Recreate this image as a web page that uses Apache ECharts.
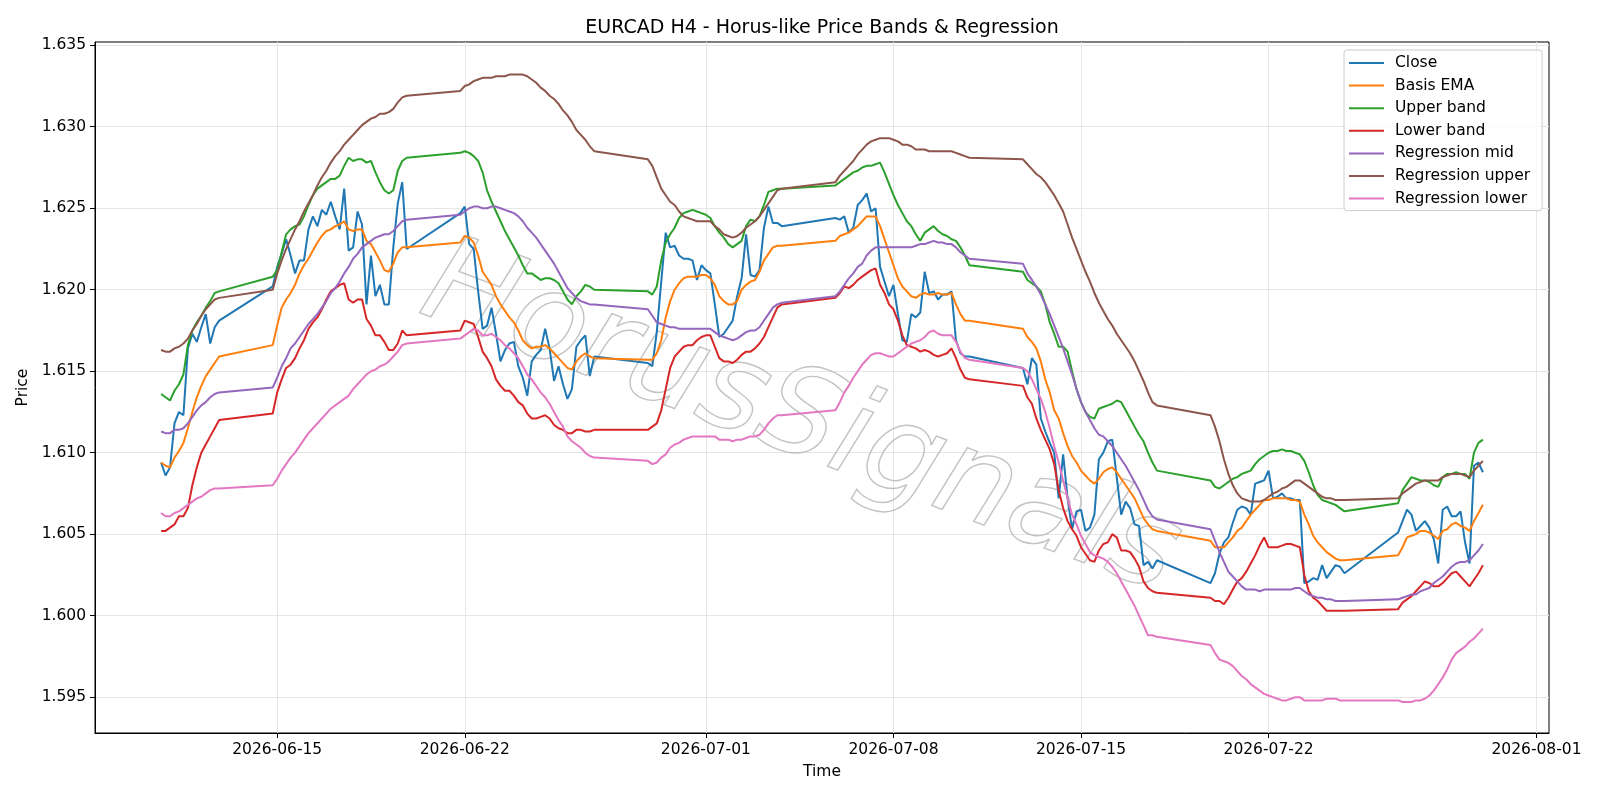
<!DOCTYPE html>
<html>
<head>
<meta charset="utf-8">
<title>EURCAD H4 - Horus-like Price Bands & Regression</title>
<script src="https://cdn.jsdelivr.net/npm/echarts@6/dist/echarts.min.js"></script>
<style>
html, body { margin: 0; padding: 0; background: #fff; }
#chart { width: 1600px; height: 800px; }
</style>
</head>
<body>
<div id="chart"></div>
<script>
// H4 bars: trading sessions (UTC), one bar every 4 hours inside each
var sessions = [
    ['2026-06-10T16:00:00Z', '2026-06-12T20:00:00Z'],
    ['2026-06-14T20:00:00Z', '2026-06-19T20:00:00Z'],
    ['2026-06-21T20:00:00Z', '2026-06-26T20:00:00Z'],
    ['2026-06-28T20:00:00Z', '2026-07-03T20:00:00Z'],
    ['2026-07-05T20:00:00Z', '2026-07-10T20:00:00Z'],
    ['2026-07-12T20:00:00Z', '2026-07-17T20:00:00Z'],
    ['2026-07-19T20:00:00Z', '2026-07-24T20:00:00Z'],
    ['2026-07-26T20:00:00Z', '2026-07-30T00:00:00Z']
];

var close = [
    1.6094,1.6086,1.6091,1.6118,1.6125,1.6123,1.6164,1.6173,1.6168,1.6177,1.6185,1.6167,1.6177,1.6181,
    1.6202,1.6214,1.6222,1.6231,1.6221,1.6210,1.6218,1.6218,1.6237,1.6245,1.6239,1.6249,1.6246,1.6254,1.6245,1.6237,1.6262,1.6224,1.6226,1.6248,1.6240,1.6191,1.6221,1.6196,1.6203,1.6191,1.6191,1.6226,1.6253,1.6266,1.6225,
    1.6247,1.6251,1.6228,1.6225,1.6199,1.6176,1.6178,1.6189,1.6173,1.6156,1.6163,1.6167,1.6168,1.6153,1.6146,1.6135,1.6156,1.6160,1.6163,1.6176,1.6164,1.6144,1.6153,1.6142,1.6133,1.6139,1.6165,1.6169,1.6172,1.6147,1.6159,
    1.6155,1.6153,1.6174,1.6205,1.6235,1.6226,1.6227,1.6221,1.6219,1.6219,1.6218,1.6206,1.6215,1.6212,1.6210,1.6191,1.6171,1.6173,1.6177,1.6181,1.6196,1.6207,1.6234,1.6209,1.6208,1.6212,1.6238,1.6251,1.6241,1.6241,1.6239,
    1.6244,1.6243,1.6245,1.6235,1.6238,1.6252,1.6255,1.6259,1.6248,1.6250,1.6214,1.6205,1.6196,1.6203,1.6185,1.6169,1.6168,1.6185,1.6183,1.6186,1.6211,1.6198,1.6199,1.6194,1.6197,1.6197,1.6199,1.6169,1.6161,1.6159,1.6159,
    1.6152,1.6142,1.6158,1.6154,1.6121,1.6113,1.6106,1.6100,1.6072,1.6099,1.6072,1.6053,1.6064,1.6065,1.6052,1.6054,1.6062,1.6096,1.6100,1.6107,1.6108,1.6085,1.6062,1.6070,1.6066,1.6056,1.6055,1.6031,1.6033,1.6029,1.6034,
    1.6020,1.6026,1.6038,1.6045,1.6048,1.6057,1.6065,1.6067,1.6066,1.6062,1.6081,1.6082,1.6083,1.6089,1.6072,1.6073,1.6075,1.6072,1.6072,1.6071,1.6071,1.6020,1.6021,1.6023,1.6022,1.6031,1.6023,1.6027,1.6031,1.6030,1.6026,
    1.6051,1.6058,1.6065,1.6062,1.6052,1.6055,1.6058,1.6054,1.6047,1.6032,1.6065,1.6067,1.6061,1.6061,1.6064,1.6045,1.6032,1.6092,1.6094,1.6088
];

var basisEma = [
    1.6094,1.6092,1.6091,1.6097,1.6101,1.6106,1.6115,1.6125,1.6134,1.6141,1.6147,1.6151,1.6155,1.6159,
    1.6166,1.6178,1.6189,1.6194,1.6198,1.6203,1.6210,1.6215,1.6219,1.6224,1.6229,1.6233,1.6236,1.6237,1.6239,1.6240,1.6242,1.6237,1.6236,1.6237,1.6237,1.6230,1.6228,1.6223,1.6218,1.6212,1.6211,1.6216,1.6223,1.6226,1.6226,
    1.6229,1.6233,1.6232,1.6229,1.6221,1.6211,1.6207,1.6203,1.6196,1.6191,1.6187,1.6183,1.6180,1.6175,1.6169,1.6166,1.6164,1.6165,1.6165,1.6166,1.6164,1.6161,1.6158,1.6155,1.6152,1.6151,1.6156,1.6159,1.6161,1.6159,1.6158,
    1.6157,1.6157,1.6161,1.6169,1.6183,1.6193,1.6200,1.6204,1.6207,1.6208,1.6208,1.6208,1.6209,1.6209,1.6207,1.6203,1.6196,1.6193,1.6191,1.6191,1.6193,1.6200,1.6203,1.6205,1.6206,1.6211,1.6218,1.6222,1.6226,1.6227,1.6227,
    1.6230,1.6233,1.6234,1.6235,1.6237,1.6239,1.6242,1.6245,1.6245,1.6245,1.6239,1.6231,1.6223,1.6215,1.6207,1.6202,1.6199,1.6196,1.6195,1.6197,1.6198,1.6197,1.6197,1.6198,1.6197,1.6197,1.6198,1.6191,1.6185,1.6181,1.6181,
    1.6176,1.6171,1.6168,1.6164,1.6156,1.6145,1.6137,1.6126,1.6121,1.6112,1.6104,1.6098,1.6094,1.6089,1.6086,1.6083,1.6081,1.6084,1.6088,1.6090,1.6091,1.6088,1.6084,1.6080,1.6076,1.6072,1.6066,1.6060,1.6056,1.6053,1.6052,
    1.6046,1.6042,1.6042,1.6042,1.6045,1.6048,1.6052,1.6054,1.6058,1.6062,1.6065,1.6068,1.6071,1.6071,1.6072,1.6072,1.6072,1.6072,1.6071,1.6071,1.6070,1.6062,1.6056,1.6049,1.6045,1.6042,1.6039,1.6037,1.6035,1.6034,1.6034,
    1.6037,1.6042,1.6048,1.6049,1.6050,1.6052,1.6052,1.6051,1.6049,1.6047,1.6052,1.6053,1.6056,1.6057,1.6055,1.6054,1.6052,1.6058,1.6063,1.6068
];

var upperBand = [
    1.6136,1.6134,1.6132,1.6138,1.6142,1.6148,1.6166,1.6175,1.6180,1.6184,1.6189,1.6193,1.6198,1.6199,
    1.6208,1.6212,1.6223,1.6234,1.6237,1.6239,1.6240,1.6245,1.6252,1.6258,1.6262,1.6264,1.6266,1.6268,1.6268,1.6270,1.6276,1.6281,1.6279,1.6280,1.6280,1.6278,1.6279,1.6272,1.6266,1.6261,1.6259,1.6261,1.6273,1.6279,1.6281,
    1.6284,1.6285,1.6284,1.6282,1.6279,1.6272,1.6261,1.6254,1.6248,1.6242,1.6236,1.6231,1.6226,1.6221,1.6215,1.6210,1.6210,1.6208,1.6206,1.6207,1.6207,1.6206,1.6204,1.6199,1.6194,1.6191,1.6196,1.6199,1.6203,1.6202,1.6200,
    1.6199,1.6197,1.6202,1.6218,1.6229,1.6234,1.6238,1.6244,1.6247,1.6248,1.6249,1.6248,1.6247,1.6246,1.6244,1.6239,1.6235,1.6232,1.6228,1.6226,1.6228,1.6230,1.6239,1.6243,1.6242,1.6245,1.6252,1.6260,1.6261,1.6262,1.6262,
    1.6264,1.6266,1.6268,1.6270,1.6272,1.6273,1.6275,1.6276,1.6276,1.6277,1.6278,1.6272,1.6265,1.6258,1.6252,1.6247,1.6242,1.6239,1.6234,1.6230,1.6235,1.6237,1.6239,1.6236,1.6234,1.6233,1.6231,1.6230,1.6226,1.6221,1.6215,
    1.6211,1.6206,1.6204,1.6202,1.6199,1.6191,1.6180,1.6173,1.6165,1.6165,1.6162,1.6150,1.6139,1.6131,1.6125,1.6122,1.6121,1.6127,1.6128,1.6129,1.6130,1.6132,1.6131,1.6126,1.6121,1.6116,1.6111,1.6107,1.6100,1.6094,1.6089,
    1.6083,1.6079,1.6078,1.6080,1.6082,1.6084,1.6085,1.6087,1.6088,1.6089,1.6093,1.6096,1.6098,1.6100,1.6101,1.6101,1.6102,1.6101,1.6101,1.6100,1.6099,1.6095,1.6088,1.6080,1.6074,1.6071,1.6070,1.6069,1.6068,1.6066,1.6064,
    1.6069,1.6077,1.6081,1.6085,1.6084,1.6083,1.6083,1.6082,1.6080,1.6079,1.6085,1.6087,1.6087,1.6088,1.6087,1.6087,1.6084,1.6100,1.6106,1.6108
];

var lowerBand = [
    1.6052,1.6052,1.6054,1.6056,1.6061,1.6061,1.6066,1.6080,1.6091,1.6100,1.6105,1.6110,1.6115,1.6120,
    1.6124,1.6137,1.6145,1.6152,1.6154,1.6158,1.6164,1.6169,1.6176,1.6180,1.6183,1.6188,1.6194,1.6199,1.6201,1.6203,1.6204,1.6194,1.6192,1.6194,1.6194,1.6182,1.6178,1.6172,1.6172,1.6168,1.6163,1.6163,1.6167,1.6175,1.6172,
    1.6175,1.6181,1.6180,1.6179,1.6171,1.6162,1.6158,1.6153,1.6145,1.6141,1.6138,1.6138,1.6135,1.6131,1.6129,1.6124,1.6121,1.6121,1.6122,1.6123,1.6121,1.6117,1.6115,1.6114,1.6112,1.6112,1.6114,1.6114,1.6113,1.6113,1.6114,
    1.6114,1.6116,1.6118,1.6126,1.6139,1.6152,1.6159,1.6162,1.6165,1.6166,1.6166,1.6169,1.6171,1.6172,1.6172,1.6165,1.6158,1.6156,1.6156,1.6155,1.6157,1.6160,1.6162,1.6162,1.6164,1.6167,1.6171,1.6177,1.6183,1.6189,1.6191,
    1.6195,1.6198,1.6202,1.6201,1.6203,1.6206,1.6208,1.6210,1.6212,1.6213,1.6203,1.6198,1.6191,1.6188,1.6181,1.6172,1.6166,1.6165,1.6164,1.6162,1.6163,1.6162,1.6160,1.6159,1.6160,1.6161,1.6164,1.6158,1.6151,1.6146,1.6145,
    1.6141,1.6134,1.6130,1.6121,1.6114,1.6108,1.6102,1.6093,1.6077,1.6066,1.6058,1.6053,1.6049,1.6042,1.6038,1.6034,1.6033,1.6040,1.6044,1.6045,1.6050,1.6048,1.6040,1.6040,1.6039,1.6035,1.6030,1.6021,1.6017,1.6015,1.6014,
    1.6011,1.6009,1.6009,1.6007,1.6011,1.6016,1.6021,1.6023,1.6027,1.6032,1.6037,1.6043,1.6048,1.6042,1.6042,1.6042,1.6043,1.6044,1.6044,1.6043,1.6042,1.6025,1.6015,1.6011,1.6009,1.6006,1.6003,1.6003,1.6003,1.6003,1.6003,
    1.6004,1.6008,1.6010,1.6012,1.6015,1.6018,1.6021,1.6020,1.6018,1.6018,1.6020,1.6023,1.6026,1.6027,1.6024,1.6021,1.6018,1.6022,1.6026,1.6031
];

var regMid = [
    1.6113,1.6112,1.6112,1.6114,1.6114,1.6115,1.6118,1.6122,1.6126,1.6129,1.6131,1.6134,1.6136,1.6137,
    1.6140,1.6146,1.6153,1.6158,1.6164,1.6167,1.6171,1.6175,1.6179,1.6182,1.6185,1.6189,1.6193,1.6198,1.6201,1.6205,1.6210,1.6214,1.6219,1.6222,1.6226,1.6228,1.6230,1.6232,1.6233,1.6234,1.6234,1.6236,1.6239,1.6242,1.6243,
    1.6246,1.6248,1.6250,1.6251,1.6251,1.6250,1.6250,1.6251,1.6251,1.6250,1.6249,1.6248,1.6247,1.6245,1.6242,1.6238,1.6235,1.6232,1.6228,1.6224,1.6220,1.6216,1.6211,1.6206,1.6201,1.6198,1.6195,1.6193,1.6192,1.6191,1.6191,
    1.6188,1.6184,1.6180,1.6179,1.6178,1.6177,1.6177,1.6176,1.6176,1.6176,1.6176,1.6176,1.6176,1.6176,1.6176,1.6174,1.6172,1.6171,1.6170,1.6169,1.6170,1.6172,1.6174,1.6175,1.6175,1.6177,1.6181,1.6185,1.6189,1.6191,1.6192,
    1.6196,1.6199,1.6203,1.6207,1.6210,1.6214,1.6216,1.6221,1.6224,1.6226,1.6226,1.6226,1.6226,1.6226,1.6226,1.6226,1.6226,1.6226,1.6227,1.6228,1.6228,1.6229,1.6230,1.6229,1.6229,1.6228,1.6228,1.6226,1.6223,1.6221,1.6219,
    1.6216,1.6210,1.6206,1.6202,1.6197,1.6191,1.6185,1.6178,1.6171,1.6164,1.6156,1.6148,1.6139,1.6131,1.6125,1.6120,1.6115,1.6111,1.6110,1.6107,1.6104,1.6100,1.6096,1.6092,1.6087,1.6082,1.6077,1.6071,1.6065,1.6061,1.6059,
    1.6053,1.6046,1.6039,1.6033,1.6027,1.6024,1.6021,1.6018,1.6016,1.6016,1.6016,1.6015,1.6016,1.6016,1.6016,1.6016,1.6016,1.6016,1.6016,1.6017,1.6017,1.6015,1.6013,1.6012,1.6011,1.6011,1.6010,1.6010,1.6009,1.6009,1.6009,
    1.6010,1.6011,1.6012,1.6013,1.6013,1.6015,1.6016,1.6017,1.6020,1.6022,1.6024,1.6027,1.6030,1.6032,1.6033,1.6033,1.6034,1.6037,1.6040,1.6044
];

var regUpper = [
    1.6163,1.6162,1.6162,1.6164,1.6165,1.6167,1.6170,1.6175,1.6179,1.6184,1.6188,1.6191,1.6194,1.6195,
    1.6200,1.6210,1.6218,1.6225,1.6231,1.6237,1.6242,1.6248,1.6253,1.6258,1.6264,1.6269,1.6273,1.6278,1.6282,1.6285,1.6289,1.6292,1.6295,1.6298,1.6301,1.6303,1.6305,1.6306,1.6308,1.6308,1.6309,1.6311,1.6315,1.6318,1.6319,
    1.6322,1.6325,1.6326,1.6328,1.6329,1.6330,1.6330,1.6330,1.6331,1.6331,1.6331,1.6332,1.6332,1.6332,1.6332,1.6331,1.6329,1.6327,1.6324,1.6322,1.6319,1.6317,1.6314,1.6310,1.6307,1.6303,1.6298,1.6295,1.6292,1.6288,1.6285,
    1.6280,1.6276,1.6269,1.6262,1.6258,1.6254,1.6252,1.6248,1.6245,1.6244,1.6243,1.6242,1.6242,1.6242,1.6242,1.6239,1.6237,1.6234,1.6233,1.6232,1.6233,1.6235,1.6238,1.6240,1.6242,1.6245,1.6249,1.6253,1.6257,1.6261,1.6262,
    1.6266,1.6270,1.6273,1.6276,1.6279,1.6283,1.6286,1.6289,1.6291,1.6292,1.6293,1.6293,1.6293,1.6292,1.6291,1.6289,1.6289,1.6288,1.6286,1.6286,1.6286,1.6285,1.6285,1.6285,1.6285,1.6285,1.6285,1.6284,1.6283,1.6282,1.6281,
    1.6280,1.6277,1.6274,1.6271,1.6269,1.6266,1.6262,1.6258,1.6253,1.6248,1.6240,1.6232,1.6225,1.6218,1.6211,1.6205,1.6198,1.6192,1.6187,1.6182,1.6178,1.6173,1.6169,1.6165,1.6161,1.6156,1.6150,1.6144,1.6137,1.6131,1.6129,
    1.6123,1.6116,1.6107,1.6096,1.6087,1.6080,1.6075,1.6072,1.6071,1.6070,1.6070,1.6070,1.6071,1.6073,1.6075,1.6076,1.6078,1.6079,1.6081,1.6083,1.6083,1.6081,1.6079,1.6077,1.6075,1.6073,1.6072,1.6072,1.6071,1.6071,1.6071,
    1.6072,1.6075,1.6077,1.6079,1.6081,1.6082,1.6083,1.6083,1.6083,1.6083,1.6085,1.6086,1.6087,1.6087,1.6087,1.6086,1.6085,1.6089,1.6092,1.6095
];

var regLower = [
    1.6063,1.6061,1.6061,1.6063,1.6064,1.6066,1.6068,1.6070,1.6072,1.6073,1.6075,1.6077,1.6078,1.6078,
    1.6080,1.6084,1.6089,1.6093,1.6097,1.6100,1.6104,1.6108,1.6112,1.6115,1.6118,1.6121,1.6124,1.6127,1.6129,1.6131,1.6133,1.6135,1.6139,1.6142,1.6145,1.6148,1.6150,1.6151,1.6153,1.6154,1.6156,1.6159,1.6162,1.6166,1.6167,
    1.6170,1.6172,1.6174,1.6176,1.6175,1.6172,1.6172,1.6173,1.6171,1.6169,1.6166,1.6164,1.6161,1.6158,1.6153,1.6148,1.6145,1.6141,1.6137,1.6134,1.6130,1.6125,1.6120,1.6116,1.6110,1.6107,1.6105,1.6103,1.6100,1.6098,1.6097,
    1.6095,1.6093,1.6094,1.6097,1.6099,1.6103,1.6105,1.6106,1.6108,1.6109,1.6110,1.6110,1.6110,1.6110,1.6110,1.6110,1.6108,1.6108,1.6108,1.6107,1.6108,1.6108,1.6109,1.6110,1.6110,1.6111,1.6114,1.6118,1.6121,1.6123,1.6123,
    1.6126,1.6131,1.6137,1.6141,1.6146,1.6150,1.6154,1.6157,1.6160,1.6161,1.6161,1.6160,1.6159,1.6159,1.6161,1.6163,1.6165,1.6167,1.6168,1.6169,1.6171,1.6174,1.6175,1.6173,1.6172,1.6172,1.6172,1.6168,1.6162,1.6158,1.6157,
    1.6152,1.6150,1.6145,1.6139,1.6133,1.6125,1.6115,1.6104,1.6094,1.6083,1.6072,1.6062,1.6056,1.6049,1.6044,1.6039,1.6037,1.6036,1.6035,1.6033,1.6030,1.6026,1.6021,1.6016,1.6011,1.6006,1.6000,1.5994,1.5988,1.5988,1.5987,
    1.5982,1.5977,1.5973,1.5972,1.5971,1.5969,1.5966,1.5963,1.5961,1.5958,1.5956,1.5954,1.5952,1.5951,1.5950,1.5949,1.5948,1.5948,1.5949,1.5950,1.5950,1.5948,1.5948,1.5948,1.5948,1.5948,1.5949,1.5949,1.5949,1.5948,1.5948,
    1.5948,1.5947,1.5947,1.5947,1.5948,1.5948,1.5949,1.5951,1.5954,1.5958,1.5962,1.5967,1.5973,1.5977,1.5979,1.5981,1.5984,1.5986,1.5989,1.5992
];

var xTickDates = ['2026-06-15', '2026-06-22', '2026-07-01', '2026-07-08', '2026-07-15', '2026-07-22', '2026-08-01'];
var yTicks = [1.595, 1.600, 1.605, 1.610, 1.615, 1.620, 1.625, 1.630, 1.635];

// build the bar timestamps
var times = [];
sessions.forEach(function (s) {
    var end = Date.parse(s[1]);
    for (var t = Date.parse(s[0]); t <= end; t += 4 * 3600 * 1000) {
        times.push(t);
    }
});
var span = times[times.length - 1] - times[0];
var xMin = times[0] - span * 0.05;
var xMax = times[times.length - 1] + span * 0.05;
var xTicks = xTickDates.map(function (d) { return Date.parse(d + 'T00:00:00Z'); });

function pad(n) { return n < 10 ? '0' + n : '' + n; }
function fmtDate(v) {
    var d = new Date(v);
    return d.getUTCFullYear() + '-' + pad(d.getUTCMonth() + 1) + '-' + pad(d.getUTCDate());
}
function pairs(arr) {
    return times.map(function (t, i) { return [t, arr[i]]; });
}

var lines = [
    ['Close', close, '#1f77b4'],
    ['Basis EMA', basisEma, '#ff7f0e'],
    ['Upper band', upperBand, '#2ca02c'],
    ['Lower band', lowerBand, '#d62728'],
    ['Regression mid', regMid, '#9467bd'],
    ['Regression upper', regUpper, '#8c564b'],
    ['Regression lower', regLower, '#e377c2']
];

var chart = echarts.init(document.getElementById('chart'));

var option = {
    animation: false,
    textStyle: { fontFamily: 'DejaVu Sans' },
    title: {
        text: 'EURCAD H4 - Horus-like Price Bands & Regression',
        left: 817,
        top: 14,
        textAlign: 'center',
        textStyle: { fontSize: 19, fontWeight: 'normal', color: '#000', fontFamily: 'DejaVu Sans' }
    },
    grid: {
        left: 95, right: 51, top: 42, bottom: 67,
        show: true, borderColor: '#000', borderWidth: 1
    },
    legend: {
        orient: 'vertical',
        left: 1344,
        top: 50,
        padding: [5, 12, 4, 5],
        itemWidth: 35,
        itemHeight: 2,
        itemGap: 6.6,
        icon: 'rect',
        backgroundColor: 'rgba(255,255,255,0.8)',
        borderColor: '#cccccc',
        borderWidth: 1,
        borderRadius: 3,
        textStyle: { fontSize: 15.5, color: '#000', lineHeight: 15.5, padding: [0, 0, 0, 6], fontFamily: 'DejaVu Sans' }
    },
    graphic: [{
        type: 'text',
        x: 800,
        y: 422,
        rotation: -0.36,
        z: 1,
        silent: true,
        style: {
            text: 'HorusSignals',
            fontSize: 122,
            fontFamily: 'DejaVu Sans',
            fontStyle: 'italic',
            align: 'center',
            verticalAlign: 'middle',
            fill: 'rgba(255,255,255,0)',
            stroke: 'rgba(175,175,175,0.75)',
            lineWidth: 1.4,
            shadowColor: 'rgba(0,0,0,0.25)',
            shadowBlur: 2,
            shadowOffsetX: -2,
            shadowOffsetY: 2
        }
    }],
    xAxis: {
        type: 'value',
        min: xMin,
        max: xMax,
        name: 'Time',
        nameLocation: 'middle',
        nameGap: 31,
        nameTextStyle: { fontSize: 15.5, color: '#000' },
        axisLine: { show: true, lineStyle: { color: '#000', width: 1 } },
        axisTick: { show: true, customValues: xTicks, length: 5, lineStyle: { color: '#000' } },
        axisLabel: { customValues: xTicks, formatter: fmtDate, fontSize: 15.5, color: '#000', margin: 9 },
        splitLine: { show: true, lineStyle: { color: '#e6e6e6', width: 1 } }
    },
    yAxis: {
        type: 'value',
        min: 1.5928,
        max: 1.6352,
        splitNumber: 8,
        name: 'Price',
        nameLocation: 'middle',
        nameGap: 59,
        nameTextStyle: { fontSize: 15.5, color: '#000' },
        axisLine: { show: true, lineStyle: { color: '#000', width: 1 } },
        axisTick: { show: true, customValues: yTicks, length: 5, lineStyle: { color: '#000' } },
        axisLabel: {
            customValues: yTicks,
            formatter: function (v) { return v.toFixed(3); },
            fontSize: 15.5, color: '#000', margin: 9
        },
        splitLine: { show: true, lineStyle: { color: '#e6e6e6', width: 1 } }
    },
    series: lines.map(function (l) {
        return {
            name: l[0],
            type: 'line',
            data: pairs(l[1]),
            symbol: 'none',
            showSymbol: false,
            lineStyle: { width: 2, color: l[2] },
            itemStyle: { color: l[2] },
            z: 3
        };
    })
};

chart.setOption(option);
</script>
</body>
</html>
